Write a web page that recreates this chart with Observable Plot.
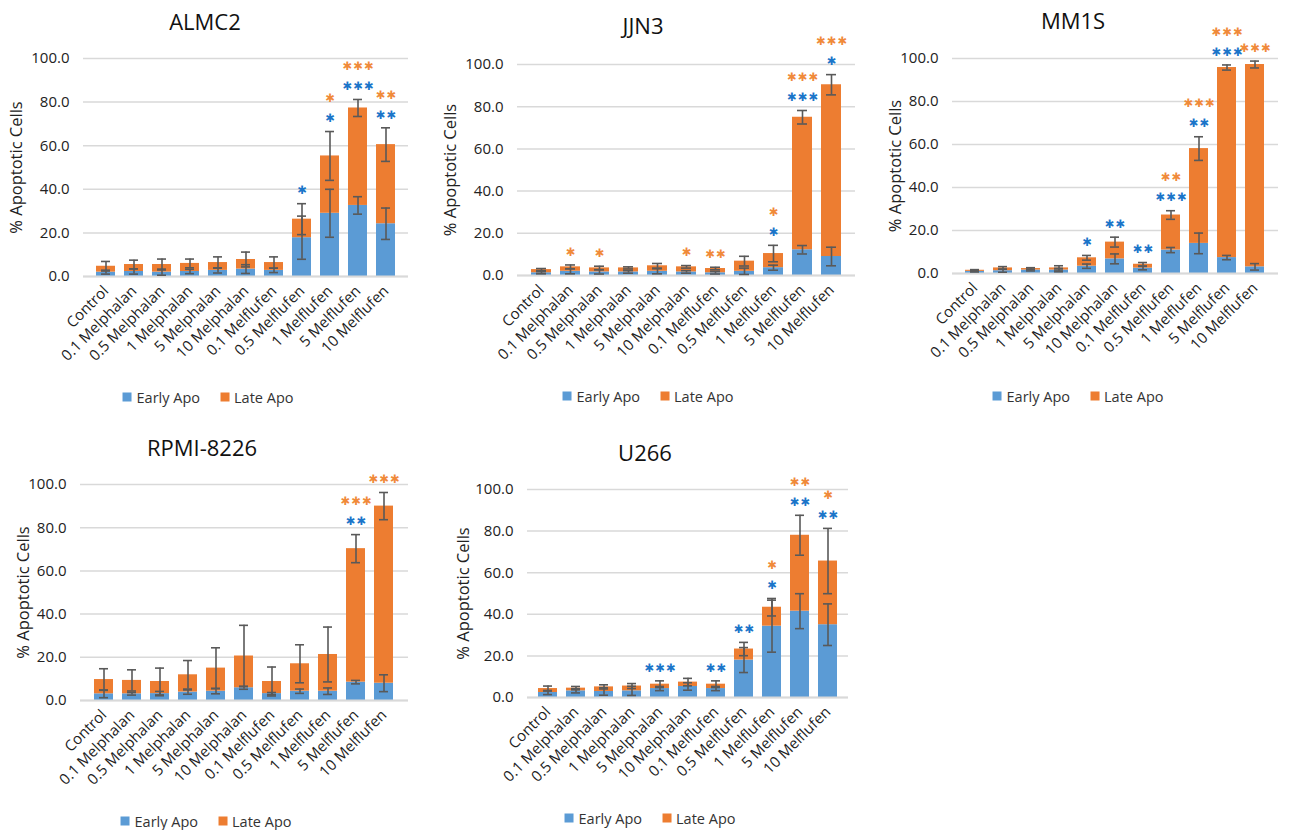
<!DOCTYPE html>
<html><head><meta charset="utf-8">
<script src="https://cdn.jsdelivr.net/npm/d3@7"></script>
<script src="https://cdn.jsdelivr.net/npm/@observablehq/plot@0.6"></script>
<style>
body{margin:0;background:#fff;font-family:"Open Sans",sans-serif;}
#root{position:relative;width:1289px;height:830px;overflow:hidden;background:#fff;}
.title{position:absolute;font-size:22px;font-weight:500;color:#111;transform:translate(-50%,-50%);white-space:nowrap;}
.legend{position:absolute;transform:translate(-50%,-50%);display:flex;gap:20px;font-size:14.5px;color:#333;white-space:nowrap;align-items:center;}
.legend .item{display:flex;align-items:center;}
.legend .sw{display:inline-block;width:9px;height:9px;margin-right:5px;}
.panel{position:absolute;}
</style></head><body><div id="root"></div><script>
const categories = ["Control","0.1 Melphalan","0.5 Melphalan","1 Melphalan","5 Melphalan","10 Melphalan","0.1 Melflufen","0.5 Melflufen","1 Melflufen","5 Melflufen","10 Melflufen"];
const seriesNames = ["Early Apo","Late Apo"];
const yTicks = [0,20,40,60,80,100];

// ALMC2
const almc2Early    = [2.0, 2.3, 2.0, 2.3, 2.8, 3.4, 2.8, 17.8, 29.0, 32.6, 24.2];
const almc2Late     = [2.7, 3.2, 3.5, 3.7, 3.6, 4.4, 3.6, 8.5, 26.3, 44.7, 36.3];
const almc2EarlyErr = [0.9, 1.2, 1.4, 1.0, 1.2, 2.0, 1.0, 9.9, 11.0, 4.0, 7.2];
const almc2TotalErr = [2.2, 2.0, 2.5, 2.0, 2.6, 3.4, 2.6, 7.1, 11.2, 3.9, 7.7];
const almc2Blue     = ["","","","","","","","*","*","***","**"];
const almc2Orange   = ["","","","","","","","","*","***","**"];

// JJN3
const jjn3Early    = [1.3, 2.0, 1.7, 1.7, 2.0, 1.7, 1.3, 2.0, 3.7, 12.2, 9.0];
const jjn3Late     = [1.5, 2.1, 1.9, 1.9, 2.6, 2.4, 2.0, 4.8, 6.7, 62.8, 81.4];
const jjn3EarlyErr = [0.5, 1.2, 1.0, 0.6, 1.2, 0.6, 0.6, 1.5, 1.2, 2.0, 4.4];
const jjn3TotalErr = [0.5, 0.9, 0.8, 0.5, 1.1, 0.6, 0.6, 2.3, 3.9, 3.2, 4.8];
const jjn3Blue     = ["","","","","","","","","*","***","*"];
const jjn3Orange   = ["","*","*","","","*","**","","*","***","***"];

// MM1S
const mm1sEarly    = [1.0, 1.3, 1.6, 1.6, 3.4, 6.8, 2.5, 10.9, 14.0, 7.4, 3.1];
const mm1sLate     = [0.5, 1.3, 0.7, 1.0, 3.9, 7.8, 1.8, 16.3, 44.1, 88.4, 94.1];
const mm1sEarlyErr = [0.3, 0.7, 0.4, 0.8, 1.0, 2.3, 0.8, 1.2, 4.8, 1.0, 1.5];
const mm1sTotalErr = [0.3, 0.6, 0.4, 1.0, 1.1, 2.3, 0.8, 2.0, 5.5, 1.2, 1.6];
const mm1sBlue     = ["","","","","*","**","**","***","**","***",""];
const mm1sOrange   = ["","","","","","","","**","***","***","***"];

// RPMI-8226
const rpmiEarly    = [3.1, 3.1, 3.2, 3.9, 4.3, 5.9, 3.2, 4.3, 4.3, 8.5, 8.0];
const rpmiLate     = [6.6, 6.2, 5.6, 8.0, 10.7, 14.7, 5.6, 12.7, 17.0, 61.8, 82.0];
const rpmiEarlyErr = [1.8, 0.6, 1.0, 1.0, 1.2, 0.7, 0.5, 1.0, 1.5, 0.8, 3.9];
const rpmiTotalErr = [5.0, 4.9, 6.2, 6.6, 9.4, 14.2, 6.7, 8.8, 12.7, 6.5, 6.3];
const rpmiBlue     = ["","","","","","","","","","**",""];
const rpmiOrange   = ["","","","","","","","","","***","***"];

// U266
const u266Early    = [2.4, 3.2, 2.9, 3.2, 4.3, 5.3, 4.3, 18.0, 34.3, 41.5, 35.0];
const u266Late     = [1.9, 1.3, 2.2, 2.3, 2.1, 2.1, 2.1, 5.3, 9.1, 36.5, 30.6];
const u266EarlyErr = [1.0, 1.0, 1.8, 2.2, 1.0, 1.8, 1.0, 6.0, 12.5, 8.4, 10.0];
const u266TotalErr = [1.2, 0.8, 1.0, 1.2, 1.6, 1.8, 1.6, 3.2, 4.2, 9.6, 15.7];
const u266Blue     = ["","","","","***","","**","**","*","**","**"];
const u266Orange   = ["","","","","","","","","*","**","*"];

const panels = [
  {title:"ALMC2", early:almc2Early, late:almc2Late, earlyErr:almc2EarlyErr, totalErr:almc2TotalErr, blue:almc2Blue, orange:almc2Orange,
   left:0, top:28, width:430, height:352, mL:83, mR:22, mT:30, mB:104, titleX:205, titleY:21, legX:208, legY:397, labX:16},
  {title:"JJN3", early:jjn3Early, late:jjn3Late, earlyErr:jjn3EarlyErr, totalErr:jjn3TotalErr, blue:jjn3Blue, orange:jjn3Orange,
   left:430, top:28, width:430, height:352, mL:87, mR:5, mT:36, mB:105, titleX:643, titleY:25, legX:648, legY:396, labX:450},
  {title:"MM1S", early:mm1sEarly, late:mm1sLate, earlyErr:mm1sEarlyErr, totalErr:mm1sTotalErr, blue:mm1sBlue, orange:mm1sOrange,
   left:860, top:28, width:429, height:352, mL:92, mR:11, mT:30, mB:107, titleX:1073, titleY:20, legX:1078, legY:396, labX:895},
  {title:"RPMI-8226", early:rpmiEarly, late:rpmiLate, earlyErr:rpmiEarlyErr, totalErr:rpmiTotalErr, blue:rpmiBlue, orange:rpmiOrange,
   left:0, top:462, width:430, height:343, mL:80, mR:22, mT:22, mB:105, titleX:202, titleY:447, legX:206, legY:821, labX:23},
  {title:"U266", early:u266Early, late:u266Late, earlyErr:u266EarlyErr, totalErr:u266TotalErr, blue:u266Blue, orange:u266Orange,
   left:430, top:462, width:430, height:343, mL:97, mR:12, mT:27, mB:108, titleX:645, titleY:452, legX:650, legY:818, labX:463}
];

const BLUE = "#5B9BD5", ORANGE = "#ED7D31", ERR = "#595959";
const root = document.getElementById("root");
const starGlyphs = s => s.split("").map(() => "\u2731").join("\u200A");

for (const p of panels) {
  const rows = categories.map((c, i) => ({
    cat: c, early: p.early[i], late: p.late[i], total: p.early[i] + p.late[i],
    eErr: p.earlyErr[i], tErr: p.totalErr[i], blue: p.blue[i], orange: p.orange[i]
  }));
  const long = rows.flatMap(r => [
    {cat: r.cat, series: seriesNames[0], value: r.early},
    {cat: r.cat, series: seriesNames[1], value: r.late}
  ]);
  const errs = rows.flatMap(r => [
    {cat: r.cat, lo: r.early - r.eErr, hi: r.early + r.eErr},
    {cat: r.cat, lo: r.total - r.tErr, hi: r.total + r.tErr}
  ]);
  const blueRows = rows.filter(r => r.blue);
  const orangeLow = rows.filter(r => r.orange && !r.blue);
  const orangeHigh = rows.filter(r => r.orange && r.blue);
  const starTop = d => d.total + d.tErr;
  const starOpts = {x: "cat", y: starTop, fontSize: 11.5, fontFamily: "DejaVu Sans"};

  const chart = Plot.plot({
    width: p.width, height: p.height,
    marginLeft: p.mL, marginRight: p.mR, marginTop: p.mT, marginBottom: p.mB,
    style: {fontFamily: "Open Sans", background: "transparent", overflow: "visible", color: "#222"},
    x: {domain: categories, padding: 0.32, label: null},
    y: {domain: [0, 100], label: null},
    color: {domain: seriesNames, range: [BLUE, ORANGE]},
    marks: [
      Plot.gridY(yTicks, {stroke: "#d9d9d9", strokeOpacity: 1, strokeWidth: 1.5}),
      Plot.axisY(yTicks, {tickFormat: d => d.toFixed(1), tickSize: 0, tickPadding: 14, fontSize: 15, label: null}),
      Plot.axisX({tickRotate: -45, tickSize: 0, tickPadding: 12, fontSize: 15, label: null}),
      Plot.barY(long, {x: "cat", y: "value", fill: "series"}),
      Plot.ruleY([0], {stroke: "#d9d9d9", strokeWidth: 2}),
      Plot.ruleX(errs, {x: "cat", y1: "lo", y2: "hi", stroke: ERR, strokeWidth: 1.6}),
      Plot.tickY(errs, {x: "cat", y: "lo", inset: 5, stroke: ERR, strokeWidth: 1.6}),
      Plot.tickY(errs, {x: "cat", y: "hi", inset: 5, stroke: ERR, strokeWidth: 1.6}),
      Plot.text(blueRows, {...starOpts, text: d => starGlyphs(d.blue), fill: "#1B75C9", dy: -13}),
      Plot.text(orangeLow, {...starOpts, text: d => starGlyphs(d.orange), fill: "#F08A3A", dy: -13}),
      Plot.text(orangeHigh, {...starOpts, text: d => starGlyphs(d.orange), fill: "#F08A3A", dy: -33}),
      Plot.text(["% Apoptotic Cells"], {frameAnchor: "left", textAnchor: "middle", dx: p.labX - (p.left + p.mL), rotate: -90, fontSize: 16.5, fill: "#222"})
    ]
  });
  const wrap = document.createElement("div");
  wrap.className = "panel";
  wrap.style.left = p.left + "px";
  wrap.style.top = p.top + "px";
  wrap.appendChild(chart);
  root.appendChild(wrap);

  const t = document.createElement("div");
  t.className = "title";
  t.textContent = p.title;
  t.style.left = p.titleX + "px";
  t.style.top = p.titleY + "px";
  root.appendChild(t);

  const lg = document.createElement("div");
  lg.className = "legend";
  lg.style.left = p.legX + "px";
  lg.style.top = p.legY + "px";
  seriesNames.forEach((s, i) => {
    const it = document.createElement("div");
    it.className = "item";
    const sw = document.createElement("span");
    sw.className = "sw";
    sw.style.background = i === 0 ? BLUE : ORANGE;
    it.appendChild(sw);
    it.appendChild(document.createTextNode(s));
    lg.appendChild(it);
  });
  root.appendChild(lg);
}
</script></body></html>
